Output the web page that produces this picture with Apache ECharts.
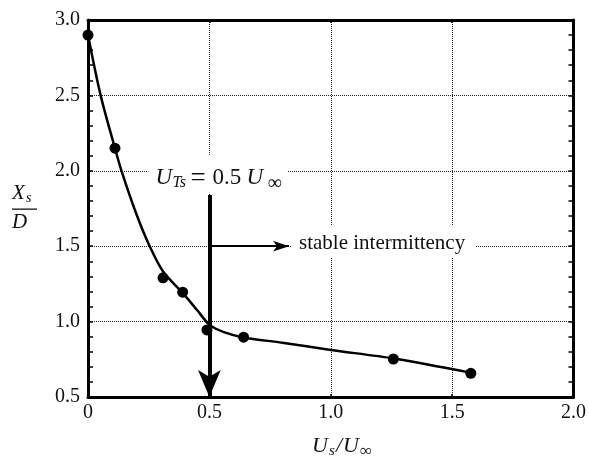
<!DOCTYPE html>
<html>
<head>
<meta charset="utf-8">
<script src="https://cdn.jsdelivr.net/npm/echarts@6/dist/echarts.min.js"></script>
<style>
  html, body { margin: 0; padding: 0; background: #fff; }
  #chart { width: 589px; height: 460px; }
</style>
</head>
<body>
<div id="chart"></div>
<script>
// Measured separation positions
const speedRatio = [0, 0.111, 0.309, 0.39, 0.49, 0.641, 1.258, 1.577];
const separation = [2.9, 2.15, 1.29, 1.195, 0.945, 0.897, 0.752, 0.657];

// Fitted trend curve through the measurements
const fitX = [0, 0.052, 0.111, 0.138, 0.2, 0.254, 0.31, 0.39, 0.45, 0.5, 0.56, 0.64, 0.8, 1.0, 1.26, 1.58];
const fitY = [2.9, 2.5, 2.15, 2.0, 1.71, 1.5, 1.33, 1.19, 1.075, 0.98, 0.93, 0.895, 0.86, 0.812, 0.755, 0.66];

// Axis tick labels
const xTickLabels = ['0', '0.5', '1.0', '1.5', '2.0'];
const yTickLabels = ['0.5', '1.0', '1.5', '2.0', '2.5', '3.0'];

// Annotation arrows (data coordinates)
const transitionX = 0.5;
const downArrowFrom = 1.84;
const downArrowTo = 0.5;
const stableArrowY = 1.5;
const stableArrowTo = 0.828;

const SERIF = 'Liberation Serif';
const INK = '#111';

const chart = echarts.init(document.getElementById('chart'), null, { renderer: 'canvas' });

const frameLine = { show: true, onZero: false, lineStyle: { color: '#000', width: 3 } };
const gridDots = { show: true, lineStyle: { color: '#222', width: 1, type: 'dotted' } };

function txt(text, left, y, size, italic) {
  return {
    type: 'text',
    x: left,
    y: y,
    silent: true,
    z: 100,
    style: {
      text: text,
      fill: INK,
      fontFamily: SERIF,
      fontSize: size,
      fontStyle: italic ? 'italic' : 'normal',
      align: 'left',
      verticalAlign: 'middle'
    }
  };
}

const option = {
  animation: false,
  backgroundColor: '#fff',
  textStyle: { fontFamily: SERIF },
  grid: { left: 88, top: 20, right: 13, bottom: 63, containLabel: false },
  xAxis: [
    {
      type: 'value', min: 0, max: 2, interval: 0.5, position: 'bottom',
      axisLine: frameLine,
      axisTick: { show: true, inside: true, length: 3, lineStyle: { color: '#000', width: 1.5 } },
      axisLabel: {
        margin: 6, color: INK, fontFamily: SERIF, fontSize: 20,
        formatter: (v) => xTickLabels[Math.round(v / 0.5)]
      },
      splitLine: gridDots
    },
    {
      type: 'value', min: 0, max: 2, interval: 0.5, position: 'top',
      axisLine: frameLine,
      axisTick: { show: true, inside: true, length: 3, lineStyle: { color: '#000', width: 1.5 } },
      axisLabel: { show: false },
      splitLine: { show: false }
    }
  ],
  yAxis: [
    {
      type: 'value', min: 0.5, max: 3, interval: 0.5, position: 'left',
      axisLine: frameLine,
      axisTick: { show: true, inside: true, length: 5, lineStyle: { color: '#000', width: 1.5 } },
      minorTick: { show: true, splitNumber: 5, length: 5, lineStyle: { color: '#000', width: 1.5 } },
      axisLabel: {
        margin: 8, color: INK, fontFamily: SERIF, fontSize: 20,
        formatter: (v) => yTickLabels[Math.round((v - 0.5) / 0.5)]
      },
      splitLine: gridDots
    },
    {
      type: 'value', min: 0.5, max: 3, interval: 0.5, position: 'right',
      axisLine: frameLine,
      axisTick: { show: true, inside: true, length: 5, lineStyle: { color: '#000', width: 1.5 } },
      minorTick: { show: true, splitNumber: 5, length: 5, lineStyle: { color: '#000', width: 1.5 } },
      axisLabel: { show: false },
      splitLine: { show: false }
    }
  ],
  series: [
    {
      name: 'fit',
      type: 'line',
      xAxisIndex: 0, yAxisIndex: 0,
      data: fitX.map((x, i) => [x, fitY[i]]),
      smooth: 0.3,
      showSymbol: false,
      symbol: 'none',
      silent: true,
      lineStyle: { color: '#000', width: 2.5 },
      z: 3,
      markLine: {
        silent: true,
        animation: false,
        label: { show: false },
        emphasis: { disabled: true },
        lineStyle: { color: '#000', type: 'solid', width: 4 },
        itemStyle: { color: '#000' },
        data: [
          [
            { coord: [transitionX, downArrowFrom], symbol: 'none' },
            { coord: [transitionX, downArrowTo], symbol: 'arrow', symbolSize: [17, 27] }
          ],
          [
            { coord: [transitionX, stableArrowY], symbol: 'none', lineStyle: { width: 2 } },
            { coord: [stableArrowTo, stableArrowY], symbol: 'arrow', symbolSize: [8, 16], lineStyle: { width: 2 } }
          ]
        ]
      }
    },
    {
      name: 'measured',
      type: 'scatter',
      xAxisIndex: 0, yAxisIndex: 0,
      data: speedRatio.map((x, i) => [x, separation[i]]),
      symbol: 'circle',
      symbolSize: 11,
      itemStyle: { color: '#000', opacity: 1 },
      z: 5
    }
  ]
};

chart.setOption(option);

// Annotations placed relative to the transition line
const px = (x, y) => chart.convertToPixel({ xAxisIndex: 0, yAxisIndex: 0 }, [x, y]);
const anchor = px(transitionX, 2.0);
const stable = px(stableArrowTo, stableArrowY);
const ax = anchor[0], ay = anchor[1];

chart.setOption({
  graphic: [
    // white panel behind the transition label
    { type: 'rect', shape: { x: ax - 61, y: ay - 16, width: 139, height: 38 },
      style: { fill: '#fff' }, silent: true, z: 90 },
    txt('U', ax - 54, ay + 7, 23, true),
    txt('Ts', ax - 37, ay + 12, 16, true),
    txt('=', ax - 19, ay + 8, 27, false),
    txt('0.5', ax + 3, ay + 7, 23, false),
    txt('U', ax + 37, ay + 7, 23, true),
    txt('\u221E', ax + 58, ay + 13, 20, false),

    // label for the stable regime
    { type: 'rect', shape: { x: stable[0] + 3, y: stable[1] - 20, width: 184, height: 31 },
      style: { fill: '#fff' }, silent: true, z: 90 },
    txt('stable intermittency', stable[0] + 10, stable[1] - 3, 21, false),

    // y-axis title as a fraction X_s / D
    txt('X', 12, 193, 21, true),
    txt('s', 26, 198, 14, true),
    { type: 'rect', shape: { x: 12, y: 208.5, width: 25, height: 1.3 }, style: { fill: INK }, silent: true, z: 100 },
    txt('D', 12, 222, 21, true),

    // x-axis title U_s / U_inf
    txt('U', 312, 446, 22, true),
    txt('s', 329, 451, 15, true),
    txt('/', 336, 446, 22, true),
    txt('U', 343, 446, 22, true),
    txt('\u221E', 360, 452, 17, false)
  ]
});
</script>
</body>
</html>
